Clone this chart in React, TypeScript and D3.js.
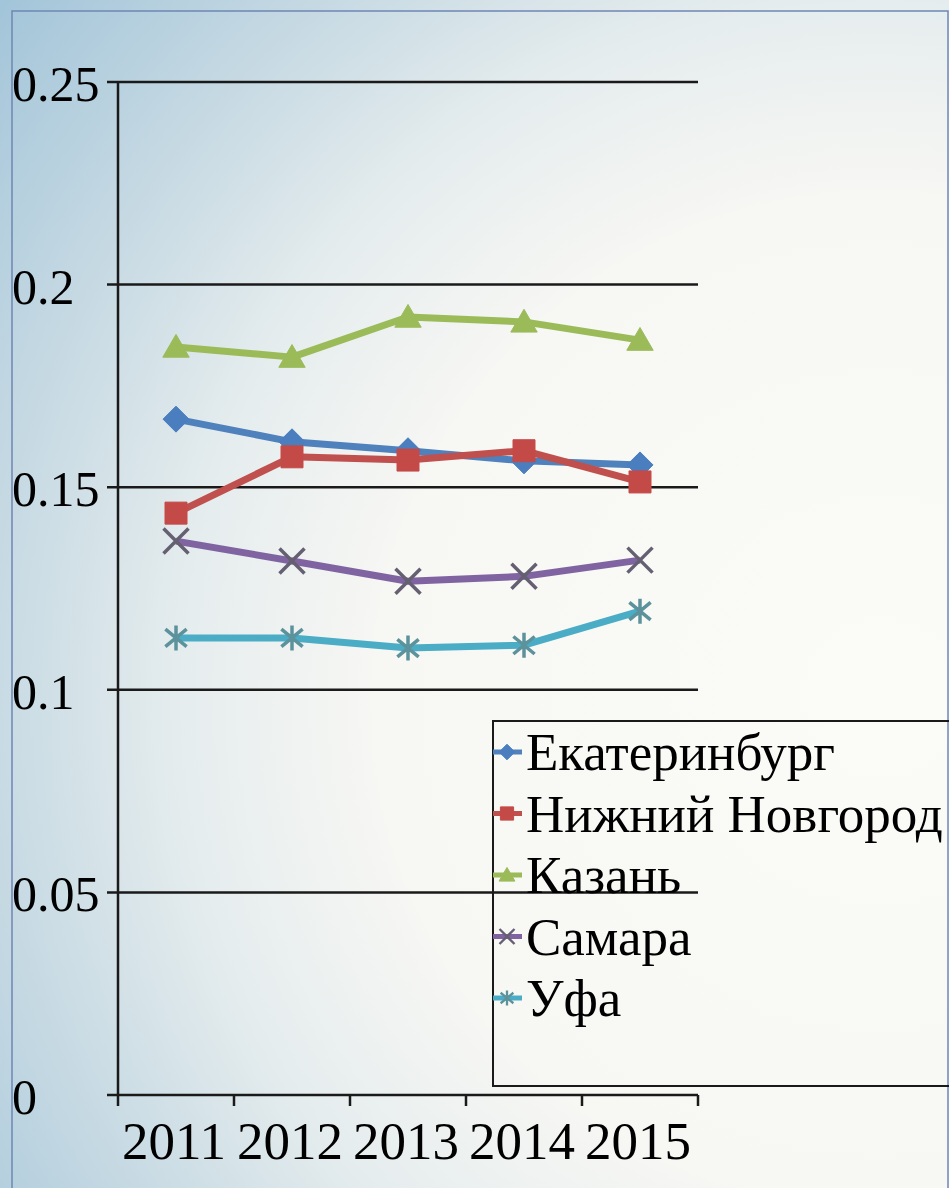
import * as d3 from "d3";
import React from "react";

const WIDTH = 949;
const HEIGHT = 1188;

const years = ["2011", "2012", "2013", "2014", "2015"];
const yTicks = [0, 0.05, 0.1, 0.15, 0.2, 0.25];
const yTickLabels = ["0", "0.05", "0.1", "0.15", "0.2", "0.25"];

const cities = ["Екатеринбург", "Нижний Новгород", "Казань", "Самара", "Уфа"];

const ekaterinburg = [0.1668, 0.1612, 0.159, 0.1565, 0.1555];
const nizhny = [0.1436, 0.1575, 0.1567, 0.159, 0.1513];
const kazan = [0.1846, 0.1821, 0.192, 0.1908, 0.1863];
const samara = [0.1367, 0.1318, 0.1268, 0.128, 0.132];
const ufa = [0.1128, 0.1128, 0.1103, 0.111, 0.1194];

const seriesValues = [ekaterinburg, nizhny, kazan, samara, ufa];

const lineColors = ["#4f81bd", "#c0504d", "#9bbb59", "#8064a2", "#4bacc6"];
const markerColors = ["#4a7ebf", "#c44a48", "#9bbb59", "#655f72", "#5c929c"];
const markerKinds = ["diamond", "square", "triangle", "x", "star"];

const PLOT = { left: 118, right: 698, top: 82, bottom: 1095 };

// marker path centred at 0,0
const markerPath = (kind: string, r: number) => {
  if (kind === "diamond") {
    return `M0,${-r}L${r},0L0,${r}L${-r},0Z`;
  }
  if (kind === "square") {
    return `M${-r},${-r}H${r}V${r}H${-r}Z`;
  }
  if (kind === "triangle") {
    return `M0,${-r * 1.05}L${r * 1.1},${r * 0.85}L${-r * 1.1},${r * 0.85}Z`;
  }
  if (kind === "x") {
    return `M${-r},${-r}L${r},${r}M${-r},${r}L${r},${-r}`;
  }
  // star: vertical + x
  return `M0,${-r}V${r}M${-r * 0.85},${-r * 0.7}L${r * 0.85},${r * 0.7}M${-r * 0.85},${r * 0.7}L${r * 0.85},${-r * 0.7}`;
};

const isStroked = (kind: string) => kind === "x" || kind === "star";

const markerSizes: Record<string, number> = {
  diamond: 13,
  square: 11,
  triangle: 12,
  x: 12.5,
  star: 12.5,
};

const Marker = ({ kind, x, y, color, scale = 1 }) => {
  const r = markerSizes[kind] * scale;
  return (
    <path
      d={markerPath(kind, r)}
      transform={`translate(${x},${y})`}
      fill={isStroked(kind) ? "none" : color}
      stroke={color}
      strokeWidth={isStroked(kind) ? 3 * scale + 0.5 : 1}
      strokeLinejoin="miter"
    />
  );
};

export default function App() {
  const x = d3
    .scaleBand<string>()
    .domain(years)
    .range([PLOT.left, PLOT.right]);

  const y = d3.scaleLinear().domain([0, 0.25]).range([PLOT.bottom, PLOT.top]);

  const line = d3
    .line<number>()
    .x((_, i) => x(years[i])! + x.bandwidth() / 2)
    .y((d) => y(d));

  const font = "'Liberation Serif', 'Times New Roman', serif";

  // x tick boundaries (category edges)
  const xEdges = years.map((yr) => x(yr)!).concat([PLOT.right]);

  const legendX = 493;
  const legendY = 721;
  const legendRow = 61.5;

  return (
    <svg
      width={WIDTH}
      height={HEIGHT}
      style={{ position: "absolute", left: 0, top: 0, display: "block" }}
    >
      <defs>
        <radialGradient
          id="bg"
          gradientUnits="userSpaceOnUse"
          cx={880}
          cy={700}
          r={1120}
        >
          <stop offset="0" stopColor="#fbfbf8" />
          <stop offset="0.45" stopColor="#f7f7f4" />
          <stop offset="0.62" stopColor="#e6edee" />
          <stop offset="0.78" stopColor="#c9dbe4" />
          <stop offset="1" stopColor="#a3c5d9" />
        </radialGradient>
      </defs>

      <rect x={0} y={0} width={WIDTH} height={HEIGHT} fill="url(#bg)" />
      {/* outer frame */}
      <rect
        x={12}
        y={11}
        width={936}
        height={HEIGHT + 20}
        fill="none"
        stroke="#6f86b4"
        strokeWidth={1.5}
      />

      {/* gridlines */}
      {yTicks.slice(1).map((t) => (
        <line
          key={t}
          x1={PLOT.left - 11}
          x2={PLOT.right}
          y1={y(t)}
          y2={y(t)}
          stroke="#1a1a1a"
          strokeWidth={2.5}
        />
      ))}

      {/* axes */}
      <line
        x1={PLOT.left}
        x2={PLOT.left}
        y1={PLOT.top}
        y2={PLOT.bottom}
        stroke="#1a1a1a"
        strokeWidth={2.5}
      />
      <line
        x1={PLOT.left - 11}
        x2={PLOT.right}
        y1={PLOT.bottom}
        y2={PLOT.bottom}
        stroke="#1a1a1a"
        strokeWidth={2.5}
      />
      {xEdges.map((ex, i) => (
        <line
          key={i}
          x1={ex}
          x2={ex}
          y1={PLOT.bottom}
          y2={PLOT.bottom + 11}
          stroke="#1a1a1a"
          strokeWidth={2.5}
        />
      ))}

      {/* y labels, left aligned */}
      {yTicks.map((t, i) => (
        <text
          key={t}
          x={12}
          y={y(t) + 19}
          fontFamily={font}
          fontSize={50}
          fill="#000"
        >
          {yTickLabels[i]}
        </text>
      ))}

      {/* x labels */}
      {years.map((yr) => (
        <text
          key={yr}
          x={x(yr)! + x.bandwidth() / 2 - 2}
          y={1159}
          fontFamily={font}
          fontSize={53}
          textAnchor="middle"
          fill="#000"
        >
          {yr}
        </text>
      ))}

      {/* series */}
      {seriesValues.map((vals, si) => (
        <g key={cities[si]}>
          <path
            d={line(vals)!}
            fill="none"
            stroke={lineColors[si]}
            strokeWidth={7}
            strokeLinejoin="round"
          />
          {vals.map((v, i) => (
            <Marker
              key={i}
              kind={markerKinds[si]}
              x={x(years[i])! + x.bandwidth() / 2}
              y={y(v)}
              color={markerColors[si]}
            />
          ))}
        </g>
      ))}

      {/* legend */}
      <rect
        x={legendX}
        y={legendY}
        width={480}
        height={365}
        fill="none"
        stroke="#1a1a1a"
        strokeWidth={2}
      />
      {cities.map((c, i) => {
        const cy = legendY + 31 + i * legendRow;
        return (
          <g key={c}>
            <line
              x1={legendX}
              x2={legendX + 29}
              y1={cy}
              y2={cy}
              stroke={lineColors[i]}
              strokeWidth={5}
            />
            <Marker
              kind={markerKinds[i]}
              x={legendX + 14}
              y={cy}
              color={markerColors[i]}
              scale={0.6}
            />
            <text
              x={legendX + 33}
              y={cy + 18}
              fontFamily={font}
              fontSize={53}
              fill="#000"
            >
              {c}
            </text>
          </g>
        );
      })}
    </svg>
  );
}
